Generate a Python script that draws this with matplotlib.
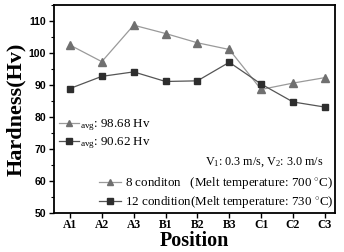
import matplotlib
matplotlib.use("Agg")
import matplotlib.pyplot as plt
from matplotlib.lines import Line2D
from matplotlib.ticker import MultipleLocator

positions = ["A1", "A2", "A3", "B1", "B2", "B3", "C1", "C2", "C3"]
hv_8 = [102.5, 97.3, 108.7, 106.1, 103.2, 101.1, 88.6, 90.6, 92.3]
hv_12 = [88.9, 92.7, 94.1, 91.1, 91.3, 97.1, 90.3, 84.7, 83.1]
avg_8 = "98.68"
avg_12 = "90.62"
label_8 = "8 conditon   (Melt temperature: 700 $^{\\circ}$C)"
label_12 = "12 condition(Melt temperature: 730 $^{\\circ}$C)"
speed_text = "V$_1$: 0.3 m/s, V$_2$: 3.0 m/s"

plt.rcParams["mathtext.fontset"] = "custom"
plt.rcParams["mathtext.rm"] = "Liberation Serif"
plt.rcParams["mathtext.it"] = "Liberation Serif:italic"
plt.rcParams["mathtext.default"] = "rm"

serif = "Liberation Serif"
sans = "Liberation Sans"

fig = plt.figure(figsize=(3.44, 2.52), dpi=100)
ax = fig.add_axes([0.157, 0.155, 0.817, 0.825])

x = list(range(len(positions)))
c8_line, c8_mk = "#9a9a9a", "#707070"
c12_line, c12_mk = "#555555", "#2e2e2e"
ax.plot(x, hv_8, color=c8_line, lw=0.9, marker="^", ms=6, mfc=c8_mk, mec=c8_mk)
ax.plot(x, hv_12, color=c12_line, lw=0.9, marker="s", ms=5, mfc=c12_mk, mec=c12_mk)

ax.set_xlim(-0.5, 8.32)
ax.set_ylim(50, 115)
ax.set_xticks(x)
ax.set_xticklabels(positions, family=serif, fontweight="bold", fontsize=8.4)
ax.yaxis.set_major_locator(MultipleLocator(10))
ax.yaxis.set_minor_locator(MultipleLocator(5))
for lab in ax.get_yticklabels():
    lab.set_family(sans)
    lab.set_fontweight("bold")
    lab.set_fontsize(7.6)
ax.tick_params(axis="both", which="major", direction="out", length=3.5, width=1.0, pad=2)
ax.tick_params(axis="x", which="major", pad=1.2)
ax.tick_params(axis="y", which="minor", direction="out", length=2, width=0.8)
for s in ax.spines.values():
    s.set_linewidth(1.3)

ax.set_ylabel("Hardness(Hv)", family=serif, fontweight="bold", fontsize=16, labelpad=2)
ax.set_xlabel("Position", family=serif, fontweight="bold", fontsize=14.5, labelpad=0)

h8 = Line2D([], [], color=c8_line, lw=0.9, marker="^", ms=4.5, mfc=c8_mk, mec=c8_mk)
h12 = Line2D([], [], color=c12_line, lw=0.9, marker="s", ms=4, mfc=c12_mk, mec=c12_mk)

leg_avg = ax.legend([h8, h12], ["$_{avg}$: " + avg_8 + " Hv", "$_{avg}$: " + avg_12 + " Hv"],
                    loc="upper left", bbox_to_anchor=(0.0, 0.485), frameon=False,
                    prop={"family": serif, "size": 9.4}, handlelength=1.5, handletextpad=0.1,
                    labelspacing=0.2, borderaxespad=0.2, borderpad=0.2)
ax.add_artist(leg_avg)

leg = ax.legend([h8, h12], [label_8, label_12], loc="lower right", frameon=False,
                prop={"family": serif, "size": 9.4}, handlelength=1.7, handletextpad=0.25,
                labelspacing=0.25, borderaxespad=0.0, borderpad=0.15)

ax.text(0.96, 0.21, speed_text, transform=ax.transAxes, ha="right", va="bottom",
        family=serif, fontsize=8.7)

fig.savefig("out.png", dpi=100)
